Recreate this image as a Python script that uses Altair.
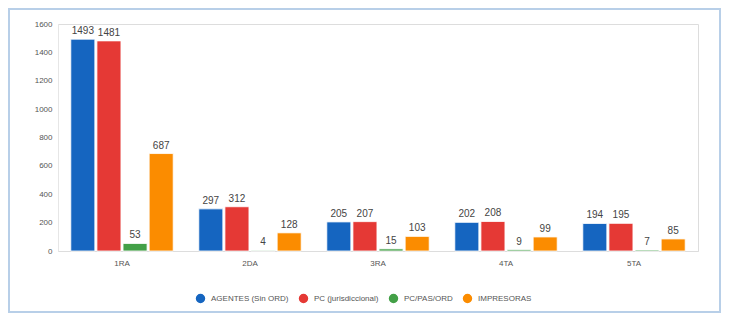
import altair as alt
import pandas as pd

categories = ["1RA", "2DA", "3RA", "4TA", "5TA"]
series = ["AGENTES (Sin ORD)", "PC (jurisdiccional)", "PC/PAS/ORD", "IMPRESORAS"]
agentes = [1493, 297, 205, 202, 194]
pc_jur = [1481, 312, 207, 208, 195]
pc_pas = [53, 4, 15, 9, 7]
impresoras = [687, 128, 103, 99, 85]
colors = ["#1565c0", "#e53935", "#43a047", "#fb8c00"]
y_ticks = [0, 200, 400, 600, 800, 1000, 1200, 1400, 1600]

rows = []
for i, c in enumerate(categories):
    for s, vals in zip(series, [agentes, pc_jur, pc_pas, impresoras]):
        rows.append({"cat": c, "serie": s, "valor": vals[i]})
df = pd.DataFrame(rows)

W, H = 640, 227
PL, PT, PR, PB = 50, 16, 23, 62

x = alt.X("cat:N", sort=categories, title=None,
          scale=alt.Scale(paddingInner=0.2, paddingOuter=0.1),
          axis=alt.Axis(labelAngle=0, labelFontSize=8, labelColor="#555", ticks=False,
                        domainColor="#dddddd", labelPadding=8))
xo = alt.XOffset("serie:N", sort=series, scale=alt.Scale(paddingInner=0.08))
y = alt.Y("valor:Q", title=None,
          scale=alt.Scale(domain=[0, 1600]),
          axis=alt.Axis(values=y_ticks, grid=False, ticks=False,
                        labelFontSize=8, labelColor="#555", domainColor="#e6e6e6",
                        labelPadding=6, labelOverlap=False, format="d"))
color = alt.Color("serie:N", sort=series,
                  scale=alt.Scale(domain=series, range=colors),
                  legend=alt.Legend(title=None, orient="none", legendX=136, legendY=268,
                                    direction="horizontal",
                                    symbolType="circle", symbolSize=120, labelFontSize=8,
                                    labelColor="#555", columnPadding=6, symbolOpacity=1))

base = alt.Chart(df)
bars = base.mark_bar(stroke="white", strokeWidth=0.8, opacity=1).encode(
    x=x, xOffset=xo, y=y, color=color)
labels = base.mark_text(dy=-8, fontSize=10, color="#444").encode(
    x=x, xOffset=xo, y=y, text="valor:Q")

border = alt.Chart(pd.DataFrame({"a": [0]})).mark_rect(
    fill=None, stroke="#b8cfe8", strokeWidth=2).encode(
    x=alt.value(-PL + 1), x2=alt.value(W + PR - 1),
    y=alt.value(-PT + 1), y2=alt.value(H + PB - 1))

chart = alt.layer(border, bars, labels).properties(
    width=W, height=H,
    padding={"left": PL, "top": PT, "right": PR, "bottom": PB},
    autosize=alt.AutoSizeParams(type="none"),
).configure_view(stroke=None).configure(background="white")

chart.save("out.html", embed_options={"renderer": "svg", "actions": False})
